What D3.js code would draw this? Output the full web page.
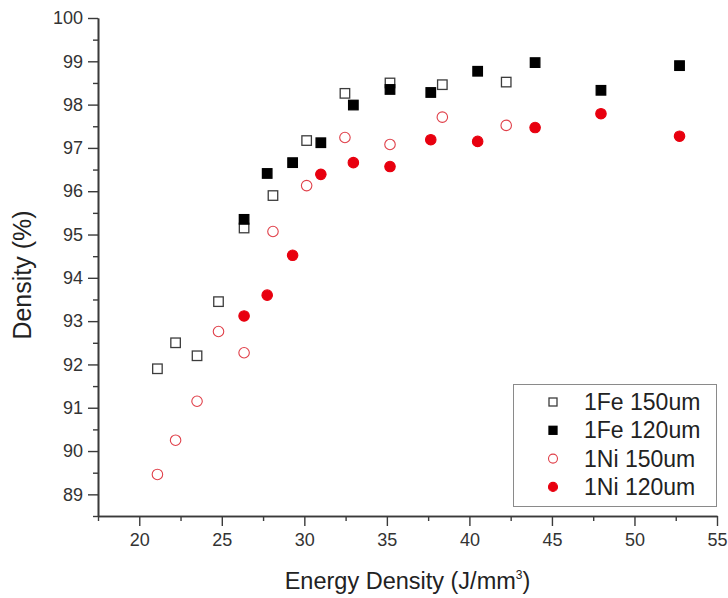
<!DOCTYPE html>
<html>
<head>
<meta charset="utf-8">
<script src="https://cdn.jsdelivr.net/npm/d3@7/dist/d3.min.js"></script>
<style>
  html, body { margin: 0; padding: 0; background: #fff; }
  svg { display: block; font-family: Arial, "Liberation Sans", sans-serif; }
</style>
</head>
<body>
<svg id="chart" width="728" height="598"></svg>
<script>
// Energy density (J/mm^3) for each hatch spacing
const energy150 = [21.1, 22.2, 23.5, 24.8, 26.35, 28.1, 30.14, 32.46, 35.19, 38.36, 42.23];
const energy120 = [26.35, 27.75, 29.29, 31.0, 32.97, 35.19, 37.66, 40.5, 43.98, 47.97, 52.73];

// Relative density (%)
const fe150 = [91.9, 92.5, 92.2, 93.45, 95.15, 95.9, 97.17, 98.26, 98.5, 98.46, 98.52];
const fe120 = [95.35, 96.41, 96.66, 97.12, 97.99, 98.35, 98.28, 98.77, 98.97, 98.33, 98.9];
const ni150 = [89.46, 90.25, 91.15, 92.76, 92.27, 95.07, 96.13, 97.24, 97.08, 97.71, 97.52];
const ni120 = [93.12, 93.6, 94.52, 96.39, 96.66, 96.57, 97.19, 97.15, 97.47, 97.79, 97.27];

const seriesNames = ["1Fe 150um", "1Fe 120um", "1Ni 150um", "1Ni 120um"];

const xTicks = [20, 25, 30, 35, 40, 45, 50, 55];
const yTicks = [89, 90, 91, 92, 93, 94, 95, 96, 97, 98, 99, 100];

const svg = d3.select("#chart");

const x = d3.scaleLinear().domain([17.5, 55]).range([98, 717]);
const y = d3.scaleLinear().domain([88.5, 100]).range([516, 18]);

const axisColor = "#3a3a3a";

// minor ticks
const xMinor = d3.range(17.5, 55.01, 2.5).filter(v => !xTicks.includes(v));
const yMinor = d3.range(88.5, 100.01, 0.5).filter(v => !yTicks.includes(Math.round(v * 10) / 10));

svg.append("g").attr("transform", `translate(0,${y.range()[0]})`)
  .call(d3.axisBottom(x).tickValues(xMinor).tickSize(5).tickFormat("").tickSizeOuter(0));
svg.append("g").attr("transform", `translate(0,${y.range()[0]})`)
  .call(d3.axisBottom(x).tickValues(xTicks).tickSize(10).tickSizeOuter(0).tickPadding(7));

svg.append("g").attr("transform", `translate(${x.range()[0]},0)`)
  .call(d3.axisLeft(y).tickValues(yMinor).tickSize(5).tickFormat("").tickSizeOuter(0));
svg.append("g").attr("transform", `translate(${x.range()[0]},0)`)
  .call(d3.axisLeft(y).tickValues(yTicks).tickSize(10).tickSizeOuter(0).tickPadding(5));

svg.selectAll(".domain").attr("stroke", axisColor).attr("stroke-width", 1.6);
svg.selectAll(".tick line").attr("stroke", axisColor).attr("stroke-width", 1.4);
svg.selectAll(".tick text").attr("fill", "#333").style("font-size", "18px")
  .style("font-family", "Arial, 'Liberation Sans', sans-serif");

// axis titles
svg.append("text")
  .attr("x", (x.range()[0] + x.range()[1]) / 2)
  .attr("y", 589)
  .attr("text-anchor", "middle")
  .attr("fill", "#222")
  .style("font-size", "23.5px")
  .html('Energy Density (J/mm<tspan dy="-10" style="font-size:12px">3</tspan><tspan dy="10">)</tspan>');

svg.append("text")
  .attr("transform", `translate(31,275) rotate(-90)`)
  .attr("text-anchor", "middle")
  .attr("fill", "#222")
  .style("font-size", "25px")
  .text("Density (%)");

// marker styles per series
const styles = [
  { shape: "square", fill: "#fff", stroke: "#3c3c3c" },
  { shape: "square", fill: "#000", stroke: "#000" },
  { shape: "circle", fill: "#fff", stroke: "#e0404a" },
  { shape: "circle", fill: "#e8000f", stroke: "#e8000f" }
];

const seriesData = [
  energy150.map((e, i) => ({ x: e, y: fe150[i] })),
  energy120.map((e, i) => ({ x: e, y: fe120[i] })),
  energy150.map((e, i) => ({ x: e, y: ni150[i] })),
  energy120.map((e, i) => ({ x: e, y: ni120[i] }))
];

function drawMarker(g, st, cx, cy, size) {
  if (st.shape === "square") {
    g.append("rect")
      .attr("x", cx - size / 2).attr("y", cy - size / 2)
      .attr("width", size).attr("height", size)
      .attr("fill", st.fill).attr("stroke", st.stroke).attr("stroke-width", 1.3);
  } else {
    g.append("circle")
      .attr("cx", cx).attr("cy", cy).attr("r", size / 2 + 0.5)
      .attr("fill", st.fill).attr("stroke", st.stroke).attr("stroke-width", 1.1);
  }
}

const plot = svg.append("g");
seriesData.forEach((data, si) => {
  const g = plot.append("g");
  data.forEach(d => drawMarker(g, styles[si], x(d.x), y(d.y), 9.5));
});

// legend
const legend = svg.append("g");
legend.append("rect")
  .attr("x", 513.5).attr("y", 384.5).attr("width", 203).attr("height", 122)
  .attr("fill", "#fff").attr("stroke", "#8a8a8a").attr("stroke-width", 1);

seriesNames.forEach((name, i) => {
  const cy = 402 + i * 28.3;
  drawMarker(legend, styles[i], 553, cy, 8);
  legend.append("text")
    .attr("x", 584).attr("y", cy + 8)
    .attr("fill", "#222")
    .style("font-size", "23px")
    .text(name);
});
</script>
</body>
</html>
